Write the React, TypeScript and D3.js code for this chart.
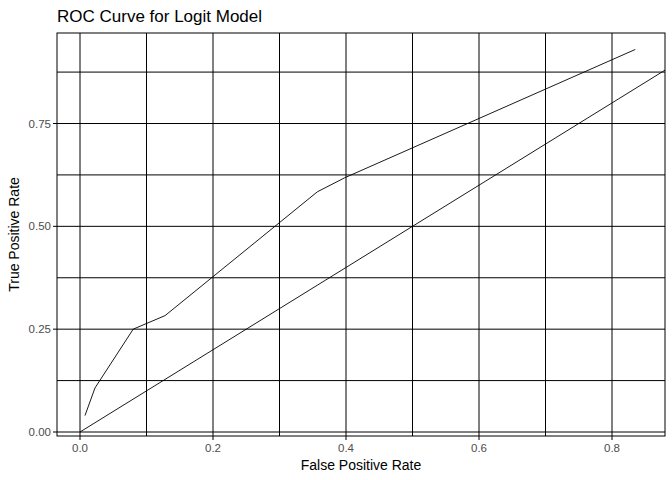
import React from "react";
import * as d3 from "d3";

const fpr = [0.0075, 0.0225, 0.08, 0.128, 0.357, 0.398, 0.835];
const tpr = [0.04, 0.107, 0.25, 0.283, 0.584, 0.618, 0.93];
const xTicks = [0, 0.2, 0.4, 0.6, 0.8];
const yTicks = [0, 0.25, 0.5, 0.75];
const xMinor = [0.1, 0.3, 0.5, 0.7];
const yMinor = [0.125, 0.375, 0.625, 0.875];

export default function App() {
  const W = 672, H = 480;
  const L = 57, R = 665, T = 33, B = 436;
  const x = d3.scaleLinear().domain([0, 0.8]).range([80, 612]);
  const y = d3.scaleLinear().domain([0, 0.75]).range([432, 123.5]);
  const line = d3.line<number>().x((_, i) => x(fpr[i])).y((_, i) => y(tpr[i]));
  const xMax = x.invert(R);
  const font = "Liberation Sans, Arial, sans-serif";
  return (
    <svg width={W} height={H} style={{ position: "absolute", left: 0, top: 0 }} fontFamily={font}>
      <rect width={W} height={H} fill="white" />
      <text x={57} y={22} fontSize={17}>ROC Curve for Logit Model</text>
      <defs><clipPath id="c"><rect x={L} y={T} width={R - L} height={B - T} /></clipPath></defs>
      <g stroke="black" strokeWidth={1}>
        {[...xTicks, ...xMinor].map((t) => <line key={"x" + t} x1={x(t)} x2={x(t)} y1={T} y2={B} />)}
        {[...yTicks, ...yMinor].map((t) => <line key={"y" + t} x1={L} x2={R} y1={y(t)} y2={y(t)} />)}
        <rect x={L} y={T} width={R - L} height={B - T} fill="none" />
        {xTicks.map((t) => <line key={"xt" + t} x1={x(t)} x2={x(t)} y1={B} y2={B + 4} />)}
        {yTicks.map((t) => <line key={"yt" + t} x1={L - 4} x2={L} y1={y(t)} y2={y(t)} />)}
      </g>
      <g clipPath="url(#c)" fill="none" stroke="black" strokeWidth={0.9}>
        <path d={line(fpr) || ""} />
        <line x1={x(0)} y1={y(0)} x2={x(xMax)} y2={y(xMax)} />
      </g>
      <g fontSize={11.5} fill="#4d4d4d">
        {xTicks.map((t) => <text key={t} x={x(t)} y={B + 16} textAnchor="middle">{t.toFixed(1)}</text>)}
        {yTicks.map((t) => <text key={t} x={L - 6} y={y(t) + 4} textAnchor="end">{t.toFixed(2)}</text>)}
      </g>
      <text x={(L + R) / 2} y={470} fontSize={14} textAnchor="middle">False Positive Rate</text>
      <text transform={`translate(19,${(T + B) / 2}) rotate(-90)`} fontSize={14} textAnchor="middle">True Positive Rate</text>
    </svg>
  );
}
